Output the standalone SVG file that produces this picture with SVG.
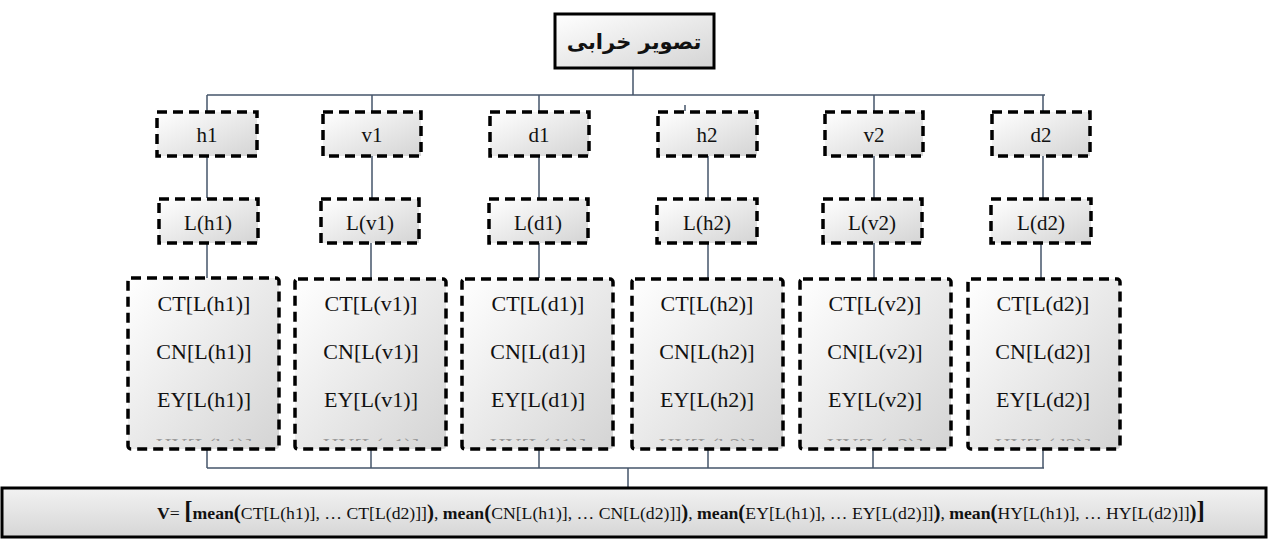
<svg xmlns="http://www.w3.org/2000/svg" width="1269" height="544" viewBox="0 0 1269 544">
<defs>
<linearGradient id="g" x1="0" y1="0" x2="1" y2="1">
<stop offset="0" stop-color="#ffffff"/>
<stop offset="1" stop-color="#d4d4d4"/>
</linearGradient>
<linearGradient id="gb" x1="0" y1="0" x2="0" y2="1">
<stop offset="0" stop-color="#f2f2f2"/>
<stop offset="1" stop-color="#d6d6d6"/>
</linearGradient>
<clipPath id="clipHY"><rect x="0" y="436" width="1269" height="5"/></clipPath>
<style>
.box{fill:url(#g);stroke:#000;stroke-width:3.5;stroke-dasharray:10 6}
.t{fill:#111;text-anchor:middle}
.s{font-size:21px}
.b{font-size:22px}
.hy{font-size:22px;fill:#9a9a9a}
.c{stroke:#44546a;stroke-width:1.5;fill:none}
</style>
</defs>
<g id="connectors">
<line class="c" x1="633" y1="68" x2="633" y2="95"/>
<line class="c" x1="207" y1="95" x2="1045" y2="95"/>
<line class="c" x1="207" y1="95" x2="207" y2="111"/>
<line class="c" x1="372" y1="95" x2="372" y2="111"/>
<line class="c" x1="539" y1="95" x2="539" y2="111"/>
<line class="c" x1="685" y1="105" x2="685" y2="111" stroke-width="1"/>
<line class="c" x1="874" y1="95" x2="874" y2="111" stroke-width="2"/>
<line class="c" x1="1043" y1="95" x2="1043" y2="111"/>
<line class="c" x1="207" y1="156" x2="207" y2="198"/>
<line class="c" x1="372" y1="156" x2="372" y2="198"/>
<line class="c" x1="539" y1="156" x2="539" y2="198"/>
<line class="c" x1="708" y1="156" x2="708" y2="198"/>
<line class="c" x1="874" y1="156" x2="874" y2="198"/>
<line class="c" x1="1043" y1="156" x2="1043" y2="198"/>
<line class="c" x1="207" y1="243" x2="207" y2="278"/>
<line class="c" x1="371" y1="243" x2="371" y2="278"/>
<line class="c" x1="539" y1="243" x2="539" y2="278"/>
<line class="c" x1="708" y1="243" x2="708" y2="278"/>
<line class="c" x1="874" y1="243" x2="874" y2="278"/>
<line class="c" x1="1041" y1="243" x2="1041" y2="278"/>
<line class="c" x1="207" y1="449" x2="207" y2="468"/>
<line class="c" x1="371" y1="449" x2="371" y2="468"/>
<line class="c" x1="539" y1="449" x2="539" y2="468"/>
<line class="c" x1="708" y1="449" x2="708" y2="468"/>
<line class="c" x1="873" y1="449" x2="873" y2="468"/>
<line class="c" x1="1043" y1="449" x2="1043" y2="468"/>
<line class="c" x1="207" y1="468" x2="1044" y2="468"/>
<line class="c" x1="628" y1="468" x2="628" y2="488"/>
</g>
<g id="root">
<rect x="555" y="14" width="159" height="54" fill="url(#g)" stroke="#000" stroke-width="3"/>
<text x="634" y="49" font-family="'DejaVu Sans', sans-serif" font-size="21" font-weight="bold" text-anchor="middle" direction="rtl" fill="#111">تصویر خرابی</text>
</g>
<g font-family="'Liberation Serif', 'Times New Roman', serif">
<g id="h1"><rect class="box" x="157" y="112" width="100" height="44"/><text class="t s" x="207" y="142">h1</text></g>
<g id="v1"><rect class="box" x="323" y="112" width="98" height="44"/><text class="t s" x="372" y="142">v1</text></g>
<g id="d1"><rect class="box" x="490" y="112" width="99" height="44"/><text class="t s" x="539" y="142">d1</text></g>
<g id="h2"><rect class="box" x="658" y="112" width="99" height="44"/><text class="t s" x="707" y="142">h2</text></g>
<g id="v2"><rect class="box" x="825" y="112" width="98" height="44"/><text class="t s" x="874" y="142">v2</text></g>
<g id="d2"><rect class="box" x="992" y="112" width="98" height="44"/><text class="t s" x="1041" y="142">d2</text></g>
<g id="Lh1"><rect class="box" x="159" y="199" width="99" height="44"/><text class="t s" x="208" y="230">L(h1)</text></g>
<g id="Lv1"><rect class="box" x="321" y="199" width="98" height="44"/><text class="t s" x="370" y="230">L(v1)</text></g>
<g id="Ld1"><rect class="box" x="489" y="199" width="99" height="44"/><text class="t s" x="538" y="230">L(d1)</text></g>
<g id="Lh2"><rect class="box" x="657" y="199" width="100" height="44"/><text class="t s" x="707" y="230">L(h2)</text></g>
<g id="Lv2"><rect class="box" x="823" y="199" width="99" height="44"/><text class="t s" x="872" y="230">L(v2)</text></g>
<g id="Ld2"><rect class="box" x="991" y="199" width="100" height="44"/><text class="t s" x="1041" y="230">L(d2)</text></g>
<g id="Fh1"><rect class="box" x="128" y="278" width="151" height="171" rx="3"/>
<text class="t b" x="204" y="311">CT[L(h1)]</text><text class="t b" x="204" y="359">CN[L(h1)]</text><text class="t b" x="204" y="407">EY[L(h1)]</text><text class="t hy" x="204" y="453" clip-path="url(#clipHY)">HY[L(h1)]</text></g>
<g id="Fv1"><rect class="box" x="295" y="279" width="151" height="170" rx="3"/>
<text class="t b" x="371" y="311">CT[L(v1)]</text><text class="t b" x="371" y="359">CN[L(v1)]</text><text class="t b" x="371" y="407">EY[L(v1)]</text><text class="t hy" x="371" y="453" clip-path="url(#clipHY)">HY[L(v1)]</text></g>
<g id="Fd1"><rect class="box" x="462" y="279" width="151" height="170" rx="3"/>
<text class="t b" x="538" y="311">CT[L(d1)]</text><text class="t b" x="538" y="359">CN[L(d1)]</text><text class="t b" x="538" y="407">EY[L(d1)]</text><text class="t hy" x="538" y="453" clip-path="url(#clipHY)">HY[L(d1)]</text></g>
<g id="Fh2"><rect class="box" x="632" y="279" width="151" height="170" rx="3"/>
<text class="t b" x="707" y="311">CT[L(h2)]</text><text class="t b" x="707" y="359">CN[L(h2)]</text><text class="t b" x="707" y="407">EY[L(h2)]</text><text class="t hy" x="707" y="453" clip-path="url(#clipHY)">HY[L(h2)]</text></g>
<g id="Fv2"><rect class="box" x="800" y="279" width="151" height="170" rx="3"/>
<text class="t b" x="875" y="311">CT[L(v2)]</text><text class="t b" x="875" y="359">CN[L(v2)]</text><text class="t b" x="875" y="407">EY[L(v2)]</text><text class="t hy" x="875" y="453" clip-path="url(#clipHY)">HY[L(v2)]</text></g>
<g id="Fd2"><rect class="box" x="968" y="279" width="152" height="170" rx="3"/>
<text class="t b" x="1043" y="311">CT[L(d2)]</text><text class="t b" x="1043" y="359">CN[L(d2)]</text><text class="t b" x="1043" y="407">EY[L(d2)]</text><text class="t hy" x="1043" y="453" clip-path="url(#clipHY)">HY[L(d2)]</text></g>
<g id="result">
<rect x="2" y="488" width="1264" height="49" fill="url(#gb)" stroke="#000" stroke-width="3"/>
<text class="t" x="681" y="519" font-size="17.7"><tspan font-weight="bold">V</tspan>= <tspan font-weight="bold" font-size="25">[</tspan><tspan font-weight="bold">mean</tspan><tspan font-weight="bold" font-size="21">(</tspan>CT[L(h1)], … CT[L(d2)]]<tspan font-weight="bold" font-size="21">)</tspan>, <tspan font-weight="bold">mean</tspan><tspan font-weight="bold" font-size="21">(</tspan>CN[L(h1)], … CN[L(d2)]]<tspan font-weight="bold" font-size="21">)</tspan>, <tspan font-weight="bold">mean</tspan><tspan font-weight="bold" font-size="21">(</tspan>EY[L(h1)], … EY[L(d2)]]<tspan font-weight="bold" font-size="21">)</tspan>, <tspan font-weight="bold">mean</tspan><tspan font-weight="bold" font-size="21">(</tspan>HY[L(h1)], … HY[L(d2)]]<tspan font-weight="bold" font-size="21">)</tspan><tspan font-weight="bold" font-size="25">]</tspan></text>
</g>
</g>
</svg>
